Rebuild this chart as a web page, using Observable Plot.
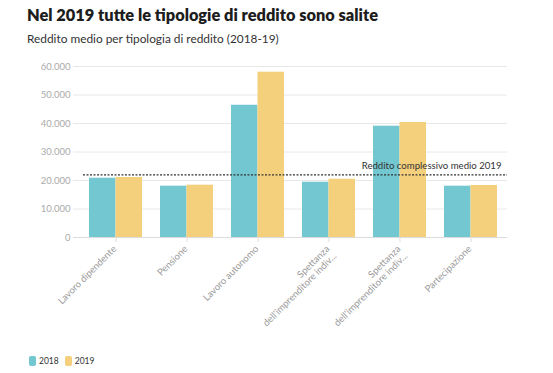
<!DOCTYPE html>
<html><head><meta charset="utf-8">
<script src="https://cdn.jsdelivr.net/npm/d3@7"></script>
<script src="https://cdn.jsdelivr.net/npm/@observablehq/plot@0.6"></script>
<style>
body{margin:0;background:#fff;font-family:Lato,"Noto Sans",sans-serif;}
#wrap{position:relative;width:553px;height:373px;overflow:hidden;}
#title{position:absolute;left:27px;top:5px;font-size:17px;font-weight:800;color:#1d1d1d;white-space:nowrap;}
#subtitle{position:absolute;left:27px;top:31px;font-size:12px;color:#333;white-space:nowrap;}
#chart{position:absolute;left:0;top:56px;}
#chart svg{overflow:visible;}
#legend{position:absolute;left:29px;top:356px;font-size:8.5px;color:#333;display:flex;align-items:center;}
.sw{display:inline-block;width:7px;height:10px;border-radius:2px;margin-right:3px;}
.it{display:flex;align-items:center;margin-right:6px;}
</style></head>
<body><div id="wrap">
<div id="title">Nel 2019 tutte le tipologie di reddito sono salite</div>
<div id="subtitle">Reddito medio per tipologia di reddito (2018-19)</div>
<div id="chart"></div>
<div id="legend"></div>
</div>
<script>
const categories = ["Lavoro dipendente","Pensione","Lavoro autonomo","Spettanza dell'imprenditore indiv. 1","Spettanza dell'imprenditore indiv. 2","Partecipazione"];
const tickLabels = ["Lavoro dipendente","Pensione","Lavoro autonomo","Spettanza\ndell'imprenditore indiv...","Spettanza\ndell'imprenditore indiv...","Partecipazione"];
const values2018 = [20800, 18000, 46400, 19400, 39050, 18000];
const values2019 = [21050, 18350, 58000, 20450, 40350, 18250];
const years = ["2018","2019"];
const colors = ["#72c7d0","#f5d07c"];
const yTicks = [0,10000,20000,30000,40000,50000,60000];
const mediaLabel = "Reddito complessivo medio 2019";
const mediaValue = 22000;

// fit heading widths to the reference
function fit(id, target){
  const el = document.getElementById(id);
  const w = el.getBoundingClientRect().width;
  const fs = parseFloat(getComputedStyle(el).fontSize);
  el.style.fontSize = (fs*target/w).toFixed(2)+"px";
}
fit("title", 351);
fit("subtitle", 252);

const fmt = d3.formatLocale({decimal:",",thousands:".",grouping:[3],currency:["","€"]}).format(",");
const d18 = categories.map((c,i)=>({cat:c,v:values2018[i]}));
const d19 = categories.map((c,i)=>({cat:c,v:values2019[i]}));
const labels = categories.map((c,i)=>({cat:c,label:tickLabels[i]}));
const half = 26.5;

const chart = Plot.plot({
  width:553, height:271,
  marginLeft:79, marginRight:47, marginTop:10, marginBottom:90,
  style:{fontFamily:"Lato, sans-serif", fontSize:"10px", color:"#aaa", background:"transparent", overflow:"visible"},
  x:{domain:categories, paddingInner:0.255, paddingOuter:0.1275, label:null},
  y:{domain:[0,60000], label:null},
  marks:[
    Plot.ruleY(yTicks,{stroke:"#e8e8e8", strokeWidth:1, insetLeft:-6, insetRight:-1}),
    Plot.barY(d18,{x:"cat", y:"v", fill:colors[0], insetRight:half}),
    Plot.barY(d19,{x:"cat", y:"v", fill:colors[1], insetLeft:half}),
    Plot.ruleY([0],{stroke:"#dcdcdc", insetLeft:-6, insetRight:-1}),
    Plot.ruleY([mediaValue],{stroke:"#333", strokeWidth:1.3, strokeDasharray:"2,1.5", insetLeft:4, insetRight:-1}),
    Plot.text([mediaLabel],{y:[mediaValue], frameAnchor:"right", textAnchor:"end", dx:-5, dy:-9, fill:"#333", fontSize:9.6}),
    Plot.axisY({ticks:yTicks, tickFormat:fmt, tickSize:0, tickPadding:9, fill:"#aaa", fontSize:9.5}),
    Plot.axisX({tickFormat:()=>"", tickSize:5, stroke:"#ddd"}),
    Plot.text(labels,{x:"cat", text:"label", frameAnchor:"bottom", rotate:-45, textAnchor:"end", lineAnchor:"top", dx:-4, dy:7, fill:"#9a9a9a", fontSize:9.5, lineHeight:1.05})
  ]
});
document.getElementById("chart").appendChild(chart);

const lg = document.getElementById("legend");
years.forEach((y,i)=>{
  const it = document.createElement("span"); it.className="it";
  const sw = document.createElement("span"); sw.className="sw"; sw.style.background=colors[i];
  it.appendChild(sw); it.appendChild(document.createTextNode(y)); lg.appendChild(it);
});
</script>
</body></html>
